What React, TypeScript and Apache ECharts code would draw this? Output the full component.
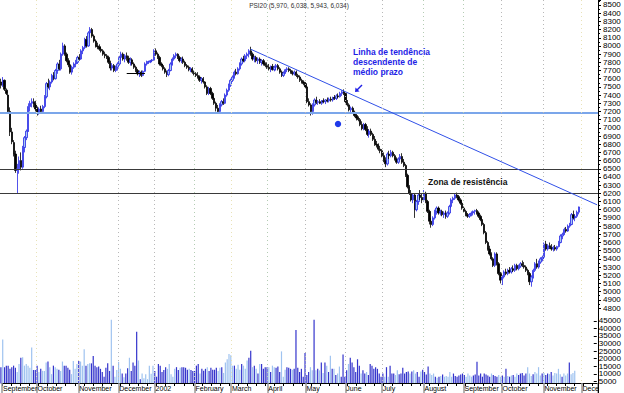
import React, { useEffect, useRef } from "react";
import * as echarts from "echarts";

// month labels and trading days per month (Sep 2001 .. Dec 2002)
const monthNames = ["September", "October", "November", "December", "2002", "February", "March", "April", "May", "June", "July", "August", "September", "October", "November", "December"];
const monthDays = [19, 23, 22, 20, 22, 20, 20, 21, 22, 20, 23, 22, 21, 23, 21, 9];

// daily [open, high, low, close]
const ohlc: number[][] = [
  [7560,7600,7480,7520],[7520,7620,7500,7580],[7580,7590,7450,7470],[7460,7480,7400,7420],[7400,7420,7180,7200],
  [7200,7250,6900,6950],[6950,7000,6800,6830],[6820,6850,6650,6680],[6680,6720,6450,6480],[6480,6560,6200,6500],
  [6500,6650,6440,6600],[6600,6700,6480,6520],[6520,6780,6500,6760],[6760,6900,6700,6880],[6880,6980,6850,6960],
  [6960,7300,6950,7260],[7260,7330,7200,7300],[7300,7360,7250,7320],[7320,7360,7250,7290],
  [7290,7330,7200,7230],[7230,7260,7150,7180],[7180,7250,7160,7230],[7230,7270,7170,7200],[7200,7280,7180,7260],
  [7260,7400,7240,7380],[7380,7560,7360,7540],[7540,7600,7480,7500],[7500,7580,7460,7560],[7560,7660,7540,7640],
  [7640,7680,7580,7600],[7600,7720,7590,7700],[7700,7800,7660,7780],[7780,7830,7700,7720],[7720,7920,7700,7900],
  [7900,8040,7880,8000],[8000,8020,7880,7900],[7900,7920,7800,7820],[7820,7850,7740,7770],[7770,7780,7660,7680],
  [7680,7760,7650,7740],[7740,7800,7720,7780],[7780,7830,7740,7800],
  [7800,7880,7780,7860],[7860,7900,7820,7840],[7840,7960,7830,7940],[7940,8000,7900,7980],[7980,8100,7960,8080],
  [8080,8120,7980,8000],[8000,8180,7990,8160],[8160,8230,8100,8200],[8200,8220,8100,8120],[8120,8140,8040,8060],
  [8060,8080,7980,8000],[8000,8040,7960,7990],[7990,8020,7940,7960],[7960,7990,7920,7940],[7940,7960,7880,7900],
  [7900,7930,7850,7880],[7880,7900,7840,7860],[7860,7880,7780,7800],[7800,7820,7700,7730],[7730,7790,7700,7760],
  [7760,7780,7680,7700],[7700,7760,7680,7740],
  [7740,7800,7700,7780],[7780,7880,7760,7860],[7860,7930,7820,7900],[7900,7920,7820,7840],[7840,7900,7800,7880],
  [7880,7920,7820,7850],[7850,7880,7780,7800],[7800,7860,7760,7830],[7830,7850,7760,7780],[7780,7800,7720,7740],
  [7740,7760,7680,7700],[7700,7720,7640,7660],[7660,7700,7620,7680],[7680,7700,7620,7640],[7640,7700,7630,7690],
  [7690,7800,7680,7780],[7780,7820,7760,7800],[7800,7820,7780,7810],[7810,7830,7790,7820],[7820,7840,7800,7830],
  [7830,7960,7820,7940],[7940,7970,7880,7900],[7900,7920,7840,7860],[7860,7880,7760,7780],[7780,7800,7740,7760],
  [7760,7780,7700,7720],[7720,7740,7660,7680],[7680,7700,7620,7650],[7650,7720,7630,7700],[7700,7800,7690,7780],
  [7780,7860,7760,7840],[7840,7900,7820,7880],[7880,7920,7850,7900],[7900,7910,7840,7860],[7860,7880,7800,7820],
  [7820,7860,7790,7840],[7840,7870,7780,7800],[7800,7820,7740,7760],[7760,7780,7720,7740],[7740,7760,7690,7710],
  [7710,7740,7680,7720],[7720,7740,7660,7680],
  [7680,7700,7640,7660],[7660,7680,7620,7640],[7640,7680,7600,7620],[7620,7640,7560,7580],[7580,7620,7540,7600],
  [7600,7620,7540,7560],[7560,7570,7480,7500],[7500,7520,7400,7420],[7420,7500,7400,7480],[7480,7500,7400,7420],
  [7420,7440,7340,7360],[7360,7380,7280,7300],[7300,7320,7200,7240],[7240,7280,7170,7200],[7200,7300,7180,7280],
  [7280,7340,7260,7320],[7320,7360,7280,7300],[7300,7420,7290,7400],[7400,7480,7380,7460],[7460,7540,7440,7520],
  [7520,7600,7500,7580],[7580,7640,7560,7620],[7620,7700,7600,7680],[7680,7720,7640,7660],[7660,7740,7650,7720],
  [7720,7800,7700,7780],[7780,7860,7760,7840],[7840,7880,7800,7820],[7820,7900,7800,7880],[7880,7920,7840,7900],
  [7900,7960,7860,7940],[7940,7990,7880,7900],[7900,7920,7820,7840],[7840,7880,7800,7860],[7860,7880,7800,7820],
  [7820,7860,7780,7840],[7840,7860,7780,7800],[7800,7840,7760,7820],[7820,7840,7760,7780],[7780,7800,7740,7760],
  [7760,7800,7720,7740],[7740,7780,7700,7720],[7720,7760,7680,7750],[7750,7780,7700,7710],[7710,7760,7690,7740],
  [7740,7780,7700,7760],[7760,7780,7700,7720],[7720,7740,7660,7680],[7680,7700,7620,7640],[7640,7690,7620,7670],
  [7670,7720,7660,7710],[7710,7740,7680,7720],[7720,7740,7680,7700],[7700,7720,7660,7680],[7680,7700,7640,7660],
  [7660,7700,7640,7680],[7680,7700,7620,7640],[7640,7660,7600,7620],[7620,7640,7560,7580],[7580,7600,7540,7560],
  [7560,7580,7520,7540],
  [7540,7560,7480,7500],[7500,7510,7300,7320],[7320,7360,7260,7280],[7280,7300,7150,7200],[7200,7300,7160,7280],
  [7280,7360,7260,7340],[7340,7380,7290,7310],[7310,7340,7280,7320],[7320,7350,7290,7300],[7300,7340,7280,7330],
  [7330,7360,7300,7320],[7320,7350,7290,7340],[7340,7370,7310,7330],[7330,7370,7310,7350],[7350,7380,7320,7340],
  [7340,7380,7320,7370],[7370,7400,7340,7360],[7360,7410,7340,7390],[7390,7420,7360,7380],[7380,7440,7370,7420],
  [7420,7460,7390,7440],[7440,7470,7400,7420],
  [7420,7430,7300,7320],[7320,7340,7260,7280],[7280,7300,7200,7220],[7220,7260,7170,7240],[7240,7260,7170,7190],
  [7190,7210,7130,7150],[7150,7170,7090,7120],[7120,7140,7080,7100],[7100,7120,7020,7040],[7040,7080,6970,6990],
  [6990,7060,6970,7040],[7040,7060,6960,6980],[6980,7020,6900,6920],[6920,6980,6880,6960],[6960,6990,6900,6920],
  [6920,6940,6840,6860],[6860,6900,6780,6800],[6800,6840,6760,6790],[6790,6810,6720,6740],[6740,6780,6690,6720],
  [6720,6740,6640,6660],[6660,6700,6580,6600],[6600,6640,6520,6560],[6560,6700,6540,6680],[6680,6720,6620,6660],
  [6660,6730,6640,6700],[6700,6720,6640,6660],[6660,6680,6600,6620],[6620,6640,6560,6580],[6580,6640,6560,6620],
  [6620,6680,6600,6650],[6650,6690,6560,6580],[6580,6620,6520,6540],[6540,6560,6400,6420],[6420,6440,6260,6280],
  [6280,6300,6180,6200],[6200,6240,6100,6120],[6120,6200,6080,6180],[6180,6200,5900,6000],[6000,6120,5980,6100],
  [6100,6200,6060,6180],[6180,6240,6120,6150],[6150,6200,6080,6120],
  [6120,6240,6100,6200],[6200,6220,6080,6100],[6100,6120,5960,5980],[5980,6000,5820,5860],[5860,5900,5780,5820],
  [5820,5920,5800,5900],[5900,6000,5880,5980],[5980,6040,5940,6020],[6020,6040,5940,5960],[5960,6000,5930,5980],
  [5980,6000,5920,5940],[5940,5980,5900,5960],[5960,5990,5890,5920],[5920,5980,5900,5960],[5960,6060,5940,6040],
  [6040,6140,6020,6120],[6120,6160,6080,6140],[6140,6200,6120,6180],[6180,6210,6140,6160],[6160,6180,6100,6120],
  [6120,6140,6060,6080],[6080,6100,6000,6020],
  [6020,6040,5960,5980],[5980,6000,5920,5940],[5940,5960,5900,5920],[5920,5960,5900,5940],[5940,5980,5920,5960],
  [5960,5990,5930,5980],[5980,6000,5940,5990],[5990,6010,5940,5960],[5960,5980,5900,5920],[5920,5940,5860,5880],
  [5880,5900,5800,5820],[5820,5840,5700,5720],[5720,5740,5580,5600],[5600,5620,5500,5520],[5520,5560,5440,5460],
  [5460,5480,5380,5400],[5400,5420,5300,5320],[5320,5480,5300,5460],[5460,5480,5320,5340],[5340,5360,5200,5220],
  [5220,5240,5100,5140],
  [5140,5200,5080,5180],[5180,5260,5160,5240],[5240,5280,5200,5220],[5220,5280,5200,5260],[5260,5300,5220,5240],
  [5240,5300,5220,5280],[5280,5320,5240,5260],[5260,5340,5240,5320],[5320,5340,5260,5280],[5280,5330,5260,5310],
  [5310,5360,5290,5340],[5340,5380,5300,5320],[5320,5360,5280,5300],[5300,5320,5240,5260],[5260,5280,5200,5220],
  [5220,5240,5080,5120],[5120,5200,5060,5180],[5180,5280,5160,5260],[5260,5360,5240,5340],[5340,5400,5280,5300],
  [5300,5380,5280,5360],[5360,5420,5340,5400],[5400,5440,5370,5420],
  [5420,5600,5400,5580],[5580,5620,5500,5520],[5520,5580,5500,5560],[5560,5600,5520,5540],[5540,5580,5500,5520],
  [5520,5560,5490,5540],[5540,5570,5500,5520],[5520,5560,5500,5550],[5550,5620,5540,5600],[5600,5700,5590,5680],
  [5680,5720,5640,5700],[5700,5780,5690,5760],[5760,5790,5720,5740],[5740,5820,5730,5800],[5800,5840,5780,5820],
  [5820,5960,5810,5940],[5940,5990,5880,5900],[5900,5940,5860,5920],[5920,5990,5900,5970],[5970,6038,5943,6034]
];

const volume: number[] = [
  14400,32700,14400,15400,15400,13300,14400,15400,14000,11200,16500,20600,20900,15400,16500,15400,14000,27300,12500,
  12500,15400,11200,13300,12000,11900,17500,18100,14400,9800,15400,14400,13300,12700,11900,18100,15400,15400,14000,12700,9800,18500,13300,
  16500,18500,18100,15400,26200,15400,16500,16900,16900,21700,15400,14400,14800,13300,11200,8000,14000,16900,11900,45600,15400,8100,
  12500,17900,13300,10200,7700,10200,13700,20600,11900,17500,15400,37700,18800,6500,10200,7100,9800,6500,15400,10000,
  15400,11900,8100,16500,15400,11200,12500,14400,13300,16500,9800,8100,13300,14400,12500,14000,14400,14400,14000,12700,13300,12500,
  11900,11900,15400,16500,10200,13300,12000,13300,14400,11900,14000,12700,12700,14000,11900,14000,14400,10600,17500,19600,
  23100,22300,15400,15400,13300,16000,12700,16500,15400,13300,18800,20600,25200,14400,15400,13300,10200,16500,16500,13300,
  14400,14400,14400,11200,15400,14400,14000,14800,11200,24800,8100,12700,14400,14000,13300,12700,13300,38900,14000,11200,13300,
  8100,23800,9200,11200,14400,12300,45600,12300,13300,12300,17500,10500,17500,15400,11200,22000,13300,13300,9200,10200,14800,8100,
  22700,8100,12300,16500,20600,17500,14400,11200,19600,15400,10200,12300,10200,11200,9200,16500,15400,13300,14400,13300,
  10200,8100,10200,8100,14400,8100,15400,10200,10200,9200,12300,9800,10200,14000,10200,11200,11600,10200,11600,12300,10200,11200,8100,
  11600,12700,11200,9600,14800,10200,9200,10200,8100,7500,8100,8500,9600,8100,8500,8100,11200,8100,10200,8500,8100,8900,
  9600,10200,9200,8100,10200,8900,8100,8900,9600,17900,8900,10200,8100,10200,9600,8900,8100,10200,9200,8500,8100,
  9200,8100,8900,8100,13300,8500,8100,8900,9200,8100,10200,9200,10200,10600,8900,10200,14400,10200,8500,9800,11200,10200,14400,
  8900,10200,10600,9200,10200,9800,11200,8900,10600,10200,13300,9800,8100,10200,8900,10200,17500,9800,10600,12000
];

// reference levels and trend line (price units, day index)
const supportLevel = 7180;
const resistanceLevels = [6500, 6200];
const trendStart: [number, number] = [137, 7960];
const trendEnd: [number, number] = [327, 6060];
const markerLine: [number, number, number] = [69, 79, 7665];
const titleText = "PSI20 (5,970, 6,038, 5,943, 6,034)";
const trendNote = ["Linha de tendência", "descendente de", "médio prazo"];
const zoneNote = "Zona de resistência";

export default function App() {
  const ref = useRef<HTMLDivElement>(null);
  useEffect(() => {
    const chart = echarts.init(ref.current!, undefined, { renderer: "svg" });
    const cats: string[] = [];
    const monthStart: number[] = [];
    monthDays.forEach((n, k) => {
      monthStart.push(cats.length);
      for (let d = 0; d < n; d++) cats.push(k + "-" + d);
    });
    const startSet = new Set(monthStart);
    const candle = ohlc.map((r) => [r[0], r[3], r[2], r[1]]);
    const vol = volume.map((v, i) => ({
      value: v,
      itemStyle: { color: ohlc[i] && ohlc[i][3] >= ohlc[i][0] ? "#9fc3f0" : "#3434cc" },
    }));
    const font = "Liberation Sans, Arial, sans-serif";
    const hiddenX = (g: number) => ({
      gridIndex: g, type: "category", data: cats, boundaryGap: true, position: "bottom",
      axisLine: { show: false }, axisTick: { show: false }, axisLabel: { show: false }, splitLine: { show: false },
    });
    const plain = (v: number) => String(v);
    const option: any = {
      animation: false,
      backgroundColor: "#fff",
      textStyle: { fontFamily: font },
      grid: [
        { left: 0, right: 26, top: 0, height: 308 },
        { left: 0, right: 26, top: 316.2, bottom: 0 },
        { left: 0, right: 26, top: 0, bottom: 10 },
      ],
      xAxis: [
        hiddenX(0),
        hiddenX(1),
        {
          gridIndex: 2, type: "category", data: cats, boundaryGap: true, z: 20, position: "bottom",
          axisLine: { show: true, lineStyle: { color: "#000", width: 1 } },
          axisTick: { show: true, interval: (i: number) => i % 5 === 0, length: 3, lineStyle: { color: "#000" } },
          axisLabel: { show: false },
          splitLine: {
            show: true, interval: (i: number) => startSet.has(i) && i > 0,
            lineStyle: { type: [1, 3], width: 1, color: ["#e8e2b8", "#e8e2b8", "#b8b8b8", "#b8b8b8", "#b4ccb4", "#e8e2b8", "#b4ccb4", "#b8b8b8", "#b8b8b8", "#b8b8b8", "#b4ccb4", "#b4ccb4", "#b8b8b8", "#b8b8b8", "#e8e2b8"] },
          },
        },
        {
          gridIndex: 2, type: "category", data: cats, boundaryGap: true, z: 21, position: "bottom", offset: 0,
          axisLine: { show: false },
          axisTick: { show: true, interval: (i: number) => startSet.has(i), length: 10, lineStyle: { color: "#999", width: 1.5 } },
          axisLabel: {
            show: true, interval: (i: number) => startSet.has(i), align: "left", margin: 2, fontSize: 7, color: "#000", fontFamily: font,
            showMinLabel: true, showMaxLabel: true, hideOverlap: false,
            formatter: (v: string) => {
              const [k, d] = v.split("-").map(Number);
              return d === 0 ? monthNames[k] : "";
            },
          },
          splitLine: { show: false },
        },
      ],
      yAxis: [
        {
          gridIndex: 0, type: "value", position: "right", min: 4800, max: 8561, interval: 100, z: 25,
          axisLine: { show: false },
          axisTick: { show: true, length: 3, lineStyle: { color: "#000" } },
          minorTick: { show: true, splitNumber: 2, length: 2, lineStyle: { color: "#000" } },
          axisLabel: { fontSize: 8, margin: 5, color: "#000", showMaxLabel: false, fontFamily: font, formatter: plain },
          splitLine: { show: false },
        },
        {
          gridIndex: 1, type: "value", position: "right", min: 0, max: 48000, interval: 5000, z: 25,
          axisLine: { show: false },
          axisTick: { show: true, length: 3, lineStyle: { color: "#000" } },
          axisLabel: { fontSize: 8, margin: 5, color: "#000", showMaxLabel: false, fontFamily: font, formatter: plain },
          splitLine: { show: false },
        },
        { gridIndex: 2, type: "value", show: false, min: 0, max: 1 },
      ],
      series: [
        {
          type: "candlestick", xAxisIndex: 0, yAxisIndex: 0, data: candle, barWidth: 1.8,
          itemStyle: { color: "#a6c8f4", color0: "#000", borderColor: "#2626e6", borderColor0: "#000", borderWidth: 0.8 },
          markLine: {
            silent: true, symbol: "none", label: { show: false }, animation: false,
            data: [
              { yAxis: supportLevel, lineStyle: { color: "#7ba6ea", width: 1.8, type: "solid" } },
              ...resistanceLevels.map((v) => ({ yAxis: v, lineStyle: { color: "#3a3a3a", width: 1, type: "solid" } })),
              [
                { coord: trendStart, lineStyle: { color: "#3050e8", width: 1, type: "solid" } },
                { coord: trendEnd },
              ],
              [
                { coord: [markerLine[0], markerLine[2]], lineStyle: { color: "#000", width: 1, type: "solid" } },
                { coord: [markerLine[1], markerLine[2]] },
              ],
            ],
          },
        },
        { type: "bar", xAxisIndex: 1, yAxisIndex: 1, data: vol, barWidth: 1.2 },
      ],
      graphic: [
        { type: "rect", z: 10, shape: { x: 0, y: 383.5, width: 598, height: 10 }, style: { fill: "#fff" } },
        { type: "rect", z: 22, shape: { x: 599, y: 384, width: 25, height: 9 }, style: { fill: "#fff" } },
        { type: "line", z: 30, shape: { x1: 598.5, y1: 0, x2: 598.5, y2: 393 }, style: { stroke: "#000", lineWidth: 1 } },
        { type: "text", z: 30, x: 299, y: 5, style: { text: titleText, fontSize: 6.5, fontFamily: font, fill: "#333", textAlign: "center", textVerticalAlign: "middle" } },
        ...trendNote.map((t, k) => ({
          type: "text", z: 30, x: 353, y: 52 + k * 10,
          style: { text: t, fontSize: 8.5, fontWeight: "bold", fontFamily: font, fill: "#1f1fe6", textVerticalAlign: "middle" },
        })),
        { type: "text", z: 30, x: 428, y: 182, style: { text: zoneNote, fontSize: 8.5, fontWeight: "bold", fontFamily: font, fill: "#111", textVerticalAlign: "middle" } },
        { type: "line", z: 30, shape: { x1: 362, y1: 85, x2: 357, y2: 90 }, style: { stroke: "#1f1fe6", lineWidth: 1.5 } },
        { type: "polygon", z: 30, shape: { points: [[355, 92], [355.5, 87.5], [359.5, 91.5]] }, style: { fill: "#1f1fe6" } },
        { type: "circle", z: 30, shape: { cx: 338, cy: 124, r: 3.2 }, style: { fill: "#1f3aea" } },
      ],
    };
    chart.setOption(option);
    return () => chart.dispose();
  }, []);
  return <div ref={ref} style={{ position: "fixed", left: 0, top: 0, width: 624, height: 393, background: "#fff" }} />;
}
